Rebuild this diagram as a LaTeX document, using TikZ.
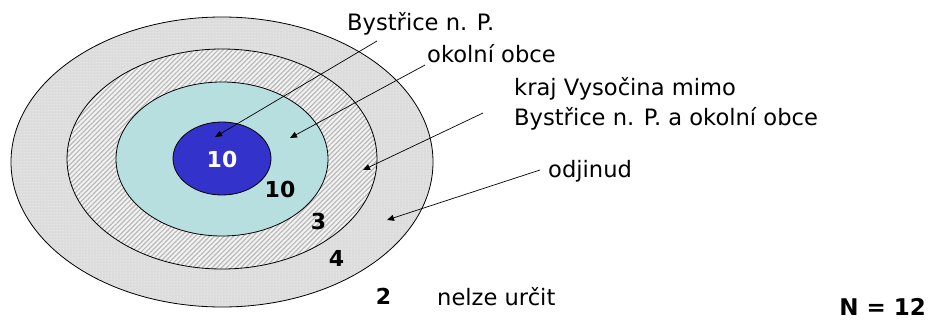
\documentclass[tikz,border=0pt]{standalone}
\usepackage{fontspec}
\setmainfont{DejaVu Sans}
\usetikzlibrary{arrows.meta,patterns,patterns.meta}
\definecolor{ringgray}{HTML}{DCDCDC}
\definecolor{lightcyan}{HTML}{B8DFE0}
\definecolor{coreblue}{HTML}{3333CC}
\tikzset{
  ring/.style={draw=black, line width=0.8pt},
  lab/.style={font=\fontsize{22.6}{25}\selectfont, anchor=base west, inner sep=0pt},
  num/.style={font=\fontsize{22}{24}\selectfont\bfseries, anchor=base, inner sep=0pt},
  ptr/.style={draw=black, line width=0.7pt, -{Triangle[length=7pt,width=6pt]}}
}
\begin{document}
\begin{tikzpicture}[x=1pt,y=-1pt]
\useasboundingbox (0,0) rectangle (928,321);
% outer ring: dotted gray
\fill[ringgray] (222,162) ellipse [x radius=211, y radius=145];
\fill[pattern=dots, pattern color=white] (222,162) ellipse [x radius=211, y radius=145];
\draw[ring] (222,162) ellipse [x radius=211, y radius=145];
% second ring: stripes
\fill[gray!10] (222,159) ellipse [x radius=155, y radius=110];
\fill[pattern={Lines[angle=45,distance=3.4pt,line width=1.2pt]}, pattern color=gray!55] (222,159) ellipse [x radius=155, y radius=110];
\draw[ring] (222,159) ellipse [x radius=155, y radius=110];
% third: light cyan
\draw[ring, fill=lightcyan] (222,159) ellipse [x radius=106, y radius=77];
% core
\draw[ring, fill=coreblue] (222,158.5) ellipse [x radius=49, y radius=36.5];

% numbers
\node[num, text=white] (n1) at (222,167) {10};
\node[num] (n2) at (280,197) {10};
\node[num] (n3) at (318.5,229) {3};
\node[num] (n4) at (336.5,266) {4};
\node[num] (n5) at (383.5,304) {2};

% labels
\node[lab] (l1) at (347,31) {Bystřice n. P.};
\node[lab] (l2) at (427,63) {okolní obce};
\node[lab] (l3) at (514,95) {kraj Vysočina mimo};
\node[lab] (l4) at (514,125) {Bystřice n. P. a okolní obce};
\node[lab] (l5) at (548,177) {odjinud};
\node[lab] (l6) at (437,305) {nelze určit};
\node[num, anchor=base east, font=\fontsize{23}{25}\selectfont\bfseries] (nn) at (926,315) {N = 12};

% arrows
\coordinate (s1) at (377,41);  \coordinate (e1) at (215,137);
\coordinate (s2) at (425,65);  \coordinate (e2) at (290,138);
\coordinate (s3) at (483,113); \coordinate (e3) at (363,170);
\coordinate (s4) at (540,170); \coordinate (e4) at (387,220);
\draw[ptr] (s1) -- (e1);
\draw[ptr] (s2) -- (e2);
\draw[ptr] (s3) -- (e3);
\draw[ptr] (s4) -- (e4);
\end{tikzpicture}
\end{document}
